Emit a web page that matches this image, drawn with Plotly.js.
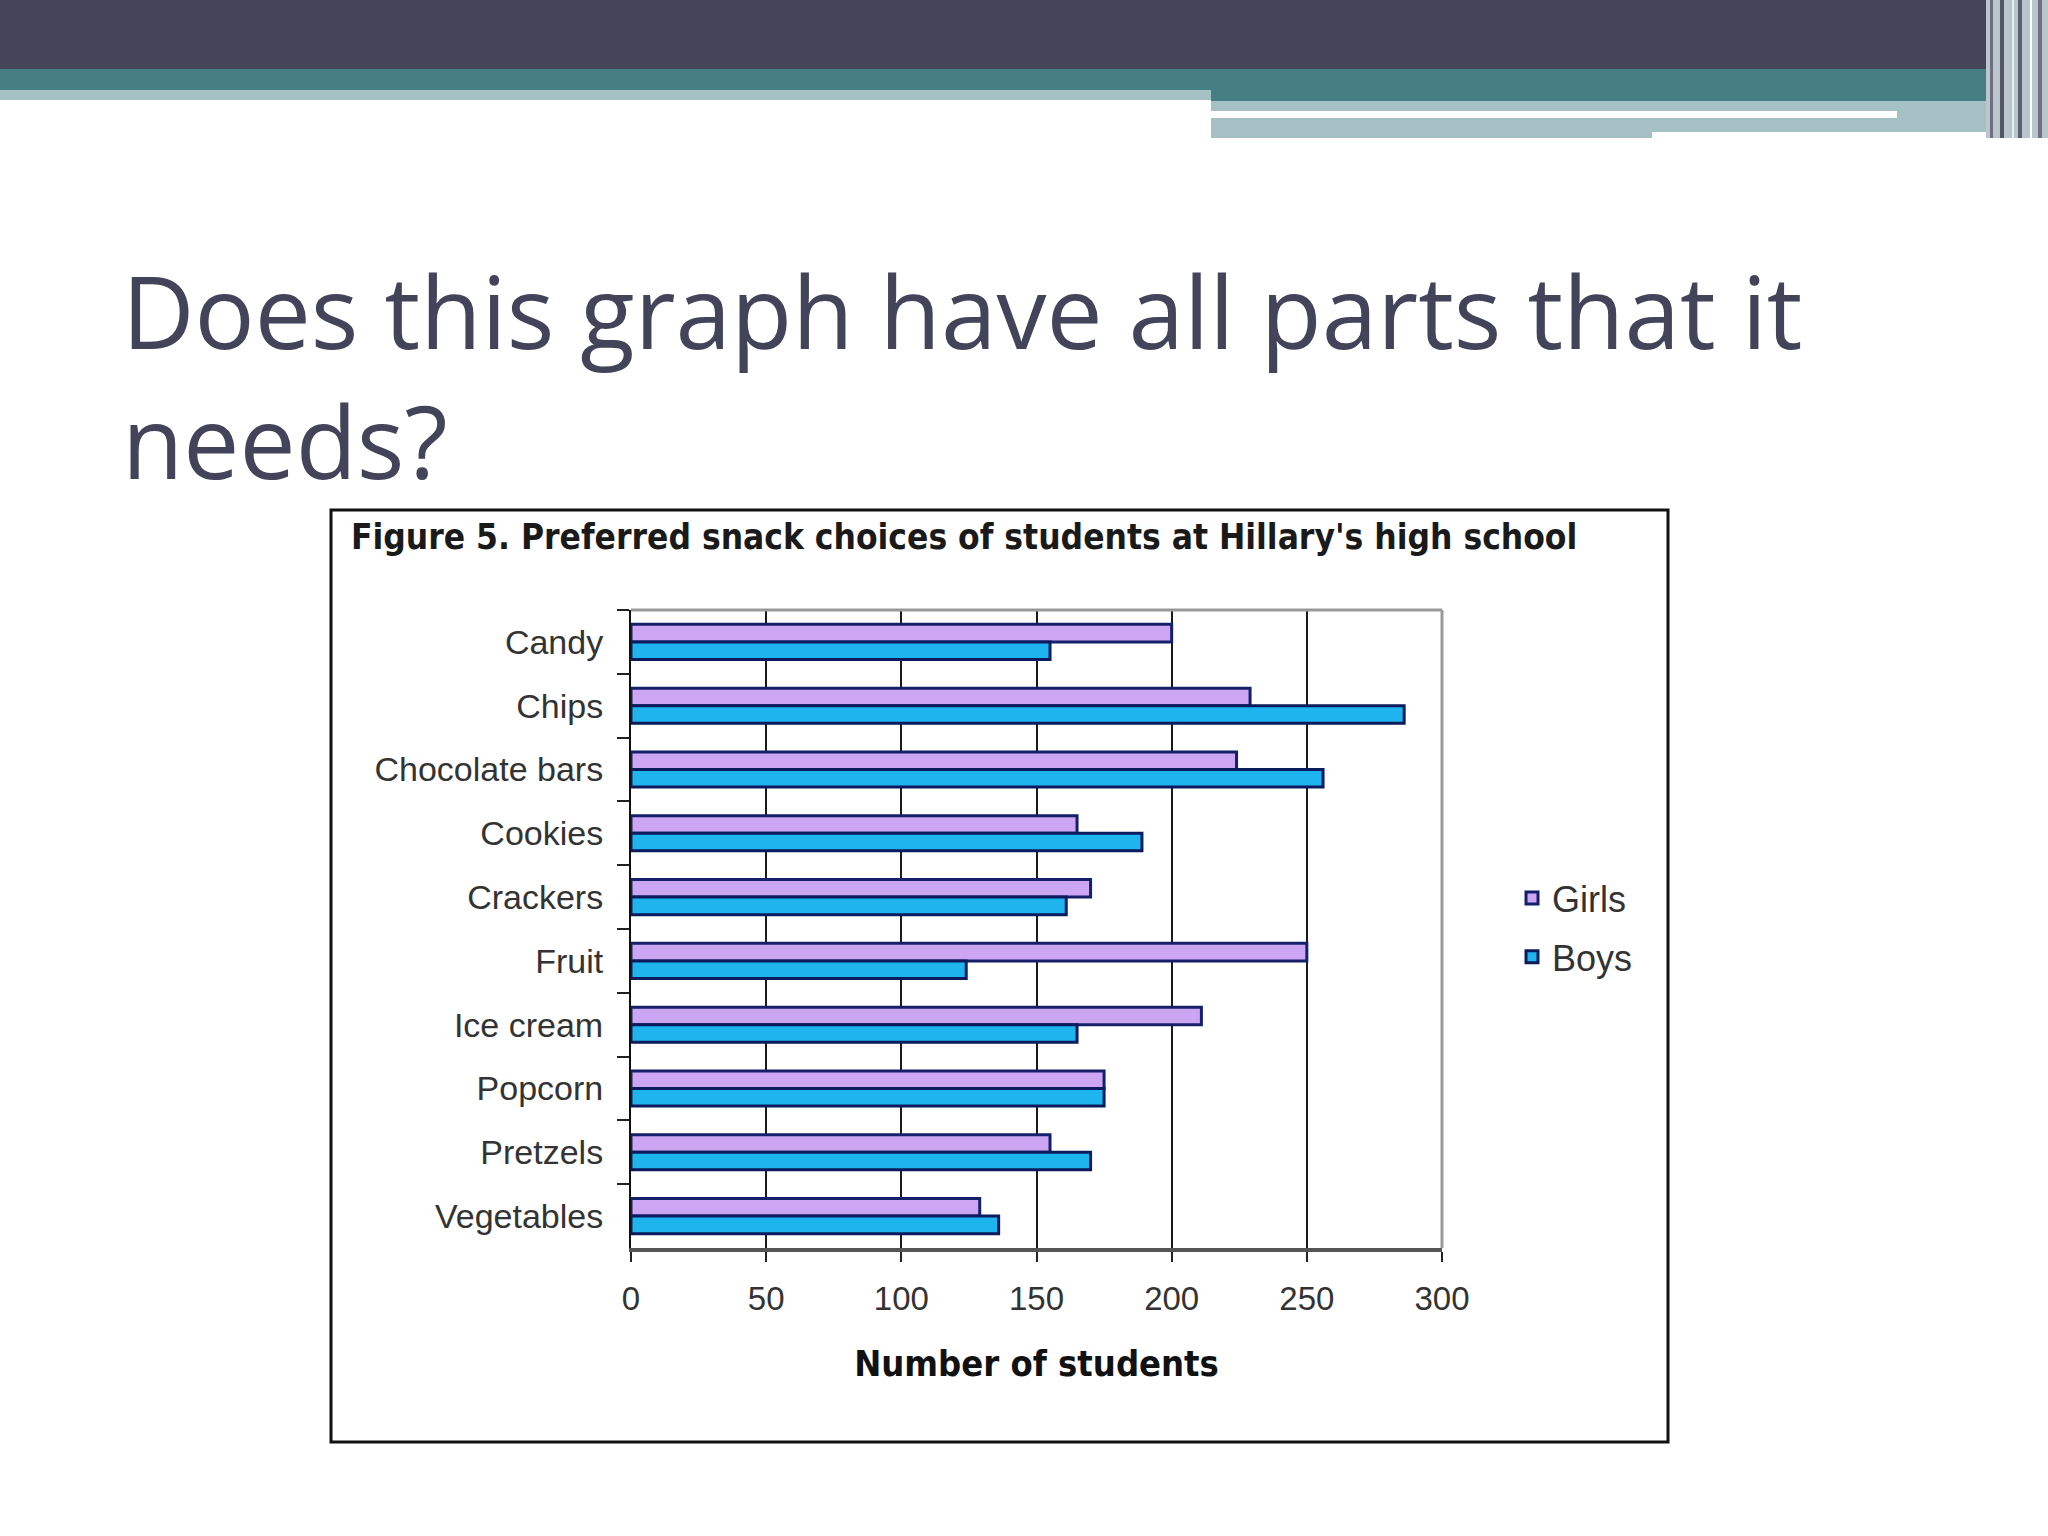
<!DOCTYPE html>
<html>
<head>
<meta charset="utf-8">
<script src="https://cdn.plot.ly/plotly-3.0.1.min.js"></script>
<style>
  html, body { margin: 0; padding: 0; background: #fff; }
  #myGraph { width: 2048px; height: 1536px; }
</style>
</head>
<body>
<div id="myGraph"></div>
<script>
// snack survey, one value per category
const snacks = ['Candy', 'Chips', 'Chocolate bars', 'Cookies', 'Crackers',
                'Fruit', 'Ice cream', 'Popcorn', 'Pretzels', 'Vegetables'];
const girls = [200, 229, 224, 165, 170, 250, 211, 175, 155, 129];
const boys  = [155, 286, 256, 189, 161, 124, 165, 175, 170, 136];
const xTicks = [0, 50, 100, 150, 200, 250, 300];

const W = 2048, H = 1536;
// pixel rectangle -> paper shape
function box(x0, y0, x1, y1, color) {
    return {
        type: 'rect', xref: 'paper', yref: 'paper', layer: 'below',
        x0: x0 / W, x1: x1 / W, y0: 1 - y1 / H, y1: 1 - y0 / H,
        fillcolor: color, line: { width: 0 }
    };
}

const dark = '#45455a', teal = '#457f83', pale = '#a5c1c5';

const shapes = [
    box(0, 0, W, 69, dark),
    box(0, 69, 1211, 90, teal),
    box(0, 90, 1211, 100, pale),
    box(1211, 69, W, 101, teal),
    box(1211, 101, 1652, 138, pale),
    box(1652, 101, 1986, 132, pale),
    box(1211, 111, 1897, 118, '#ffffff'),
    // stripes at the right edge of the header
    box(1986, 0, 2048, 138, '#b9c6cb'),
    box(1990, 0, 1993, 138, '#6e6e80'),
    box(2000, 0, 2004, 138, '#55556a'),
    box(2012, 0, 2014, 138, '#e8eef0'),
    box(2018, 0, 2022, 138, '#5f5f72'),
    box(2030, 0, 2032, 138, '#ffffff'),
    box(2038, 0, 2042, 138, '#70707f'),
    // frame of the figure
    {
        type: 'rect', xref: 'paper', yref: 'paper', layer: 'below',
        x0: 331 / W, x1: 1668 / W, y0: 1 - 1442 / H, y1: 1 - 510 / H,
        fillcolor: '#ffffff', line: { color: '#111111', width: 3 }
    },
    // grey top and right edges of the plot area
    { type: 'line', xref: 'x domain', yref: 'y domain', x0: 0, x1: 1, y0: 1, y1: 1,
      line: { color: '#9a9a9a', width: 3 }, layer: 'above' },
    { type: 'line', xref: 'x domain', yref: 'y domain', x0: 1, x1: 1, y0: 0, y1: 1,
      line: { color: '#9a9a9a', width: 3 }, layer: 'above' }
];

const data = [
    {
        type: 'bar', orientation: 'h', name: 'Girls', legendgroup: 'girls',
        y: snacks, x: girls,
        marker: { color: '#cca6f2', line: { color: '#14206a', width: 3 } }
    },
    {
        type: 'bar', orientation: 'h', name: 'Boys', legendgroup: 'boys',
        y: snacks, x: boys,
        marker: { color: '#1eb4ee', line: { color: '#0c1a5e', width: 3 } }
    }
];

const layout = {
    width: W, height: H, autosize: false,
    margin: { l: 0, r: 0, t: 0, b: 0 },
    paper_bgcolor: '#ffffff', plot_bgcolor: '#ffffff',
    barmode: 'group', bargap: 0.45, bargroupgap: 0,
    font: { family: 'Liberation Sans, Arial, sans-serif', color: '#333333' },
    xaxis: {
        domain: [631 / W, 1442 / W],
        range: [0, 300], tickvals: xTicks, ticks: 'outside', ticklen: 10,
        tickwidth: 2, tickcolor: '#222222',
        showgrid: true, gridcolor: '#1a1a1a', gridwidth: 2,
        showline: true, linecolor: '#555555', linewidth: 4, zeroline: false,
        tickfont: { size: 33, color: '#333333' },
        ticklabelstandoff: 8,
        title: {
            text: '<b>Number of students</b>', standoff: 36,
            font: { family: 'DejaVu Sans Condensed, DejaVu Sans, sans-serif', size: 36, color: '#111111' }
        }
    },
    yaxis: {
        domain: [1 - 1248 / H, 1 - 610 / H],
        type: 'category', autorange: 'reversed',
        tickson: 'boundaries', ticks: 'outside', ticklen: 12, tickwidth: 2, tickcolor: '#222222',
        showline: true, linecolor: '#111111', linewidth: 2, showgrid: false,
        tickfont: { size: 34, color: '#333333' },
        ticklabelstandoff: 19
    },
    legend: {
        x: 1512 / W, xanchor: 'left', y: 1 - 868 / H, yanchor: 'top',
        tracegroupgap: 9,
        font: { size: 36, color: '#333333' }, bgcolor: 'rgba(0,0,0,0)'
    },
    shapes: shapes,
    annotations: [
        {
            xref: 'paper', yref: 'paper', x: 120 / W, y: 1 - 375 / H,
            xanchor: 'left', yanchor: 'middle', align: 'left', showarrow: false,
            text: 'Does this graph have all parts that it<br>needs?',
            font: { family: 'Open Sans, sans-serif', size: 100, color: '#43435a' }
        },
        {
            xref: 'paper', yref: 'paper', x: 349 / W, y: 1 - 537 / H,
            xanchor: 'left', yanchor: 'middle', showarrow: false,
            text: "<b>Figure 5. Preferred snack choices of students at Hillary's high school</b>",
            font: { family: 'DejaVu Sans Condensed, DejaVu Sans, sans-serif', size: 35, color: '#1a1a1a' }
        }
    ]
};

Plotly.newPlot('myGraph', data, layout, { staticPlot: true });
</script>
</body>
</html>
